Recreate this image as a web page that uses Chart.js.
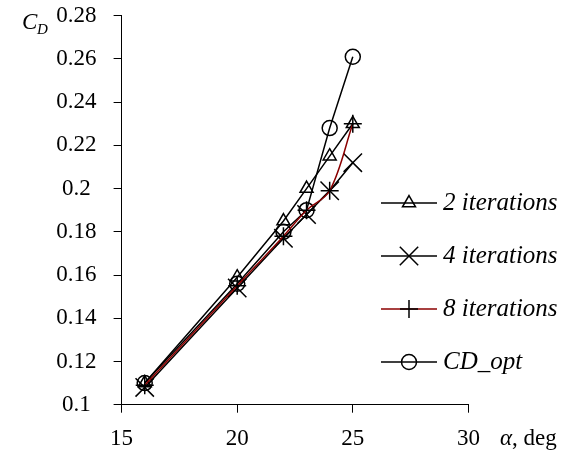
<!DOCTYPE html>
<html>
<head>
<meta charset="utf-8">
<script src="https://cdn.jsdelivr.net/npm/chart.js@4.4.0/dist/chart.umd.min.js"></script>
<style>
  body { margin: 0; background: #fff; }
  #wrap { width: 581px; height: 463px; position: relative; }
</style>
</head>
<body>
<div id="wrap"><canvas id="cdChart"></canvas></div>
<script>
// angle of attack, deg
const alpha = [16, 20, 22, 23, 24, 25];
// drag coefficient per run
const cd2iter = [0.110, 0.159, 0.185, 0.200, 0.215, 0.230];
const cd4iter = [0.108, 0.154, 0.177, 0.188, 0.199, 0.212];
const cd8iter = [0.109, 0.155, 0.178, 0.190, 0.199, 0.230];
const cdOpt   = [0.110, 0.156, 0.180, 0.190, 0.228, 0.261];
const seriesNames = ['2 iterations', '4 iterations', '8 iterations', 'CD_opt'];
const xTicks = [15, 20, 25, 30];
const yTicks = [0.1, 0.12, 0.14, 0.16, 0.18, 0.2, 0.22, 0.24, 0.26, 0.28];

const serif = '"Liberation Serif", "DejaVu Serif", serif';

function pts(ys) {
    return alpha.map((a, i) => ({ x: a, y: ys[i] }));
}

function marker(ctx, style, x, y, r) {
    ctx.beginPath();
    if (style === 'triangle') {
        for (let k = 0; k < 3; k++) {
            const a = k * 2 * Math.PI / 3;
            const px = x + Math.sin(a) * r, py = y - Math.cos(a) * r;
            k === 0 ? ctx.moveTo(px, py) : ctx.lineTo(px, py);
        }
        ctx.closePath();
    } else if (style === 'crossRot') {
        const d = r * Math.SQRT1_2;
        ctx.moveTo(x - d, y - d); ctx.lineTo(x + d, y + d);
        ctx.moveTo(x - d, y + d); ctx.lineTo(x + d, y - d);
    } else if (style === 'cross') {
        ctx.moveTo(x, y - r); ctx.lineTo(x, y + r);
        ctx.moveTo(x - r, y); ctx.lineTo(x + r, y);
    } else {
        ctx.arc(x, y, r, 0, Math.PI * 2);
    }
    ctx.stroke();
}

const legendItems = [
    { style: 'triangle', r: 7.5, line: '#000' },
    { style: 'crossRot', r: 13, line: '#000' },
    { style: 'cross', r: 9, line: '#8b0000' },
    { style: 'circle', r: 7.5, line: '#000' }
];

const extras = {
    id: 'extras',
    afterDraw(chart) {
        const ctx = chart.ctx;
        ctx.save();
        ctx.lineWidth = 1.5;
        // legend
        legendItems.forEach((it, i) => {
            const y = 203 + i * 53;
            ctx.strokeStyle = it.line;
            ctx.beginPath();
            ctx.moveTo(381, y); ctx.lineTo(437, y);
            ctx.stroke();
            ctx.strokeStyle = '#000';
            marker(ctx, it.style, 409, y, it.r);
            ctx.fillStyle = '#000';
            ctx.font = 'italic 25px ' + serif;
            ctx.textBaseline = 'middle';
            ctx.textAlign = 'left';
            ctx.fillText(seriesNames[i], 443, y);
        });
        // axis titles
        ctx.fillStyle = '#000';
        ctx.textBaseline = 'alphabetic';
        ctx.font = 'italic 23px ' + serif;
        ctx.fillText('C', 22, 29);
        ctx.font = 'italic 15px ' + serif;
        ctx.fillText('D', 37, 34);
        ctx.font = 'italic 23px ' + serif;
        ctx.fillText('α', 500, 445);
        const w = ctx.measureText('α').width;
        ctx.font = '23px ' + serif;
        ctx.fillText(', deg', 500 + w, 445);
        ctx.restore();
    }
};

const common = { borderWidth: 1.5, pointBorderWidth: 1.5, pointBackgroundColor: 'rgba(0,0,0,0)', pointBorderColor: '#000', pointHoverRadius: 0 };

new Chart(document.getElementById('cdChart'), {
    type: 'line',
    data: {
        datasets: [
            { ...common, label: seriesNames[0], data: pts(cd2iter), borderColor: '#000', pointStyle: 'triangle', pointRadius: 7.5, order: 3 },
            { ...common, label: seriesNames[1], data: pts(cd4iter), borderColor: '#000', pointStyle: 'crossRot', pointRadius: 13, order: 2 },
            { ...common, label: seriesNames[2], data: pts(cd8iter), borderColor: '#8b0000', pointStyle: 'cross', pointRadius: 9, tension: 0.35, order: 1 },
            { ...common, label: seriesNames[3], data: pts(cdOpt), borderColor: '#000', pointStyle: 'circle', pointRadius: 7.5, order: 4 }
        ]
    },
    options: {
        responsive: true,
        maintainAspectRatio: false,
        animation: false,
        events: [],
        layout: { padding: { left: 0, right: 112.6, top: 15.7, bottom: 0 } },
        plugins: { legend: { display: false }, tooltip: { enabled: false } },
        scales: {
            x: {
                type: 'linear',
                min: 15, max: 30,
                afterBuildTicks: s => { s.ticks = xTicks.map(v => ({ value: v })); },
                afterFit: s => { s.height = 58.3; s.paddingLeft = 0; s.paddingRight = 0; },
                grid: { display: true, drawOnChartArea: false, drawTicks: true, tickLength: 8, color: '#000' },
                border: { display: true, color: '#000', width: 1 },
                ticks: { color: '#000', font: { family: serif, size: 23 }, padding: 12, maxRotation: 0 }
            },
            y: {
                min: 0.1, max: 0.28,
                afterBuildTicks: s => { s.ticks = yTicks.map(v => ({ value: v })); },
                afterFit: s => { s.width = 121.6; s.paddingTop = 0; s.paddingBottom = 0; },
                grid: { display: true, drawOnChartArea: false, drawTicks: true, tickLength: 8, color: '#000' },
                border: { display: true, color: '#000', width: 1 },
                ticks: {
                    color: '#000', font: { family: serif, size: 23 }, padding: 17, crossAlign: 'center',
                    callback: v => String(+v.toFixed(2))
                }
            }
        }
    },
    plugins: [extras]
});
</script>
</body>
</html>
